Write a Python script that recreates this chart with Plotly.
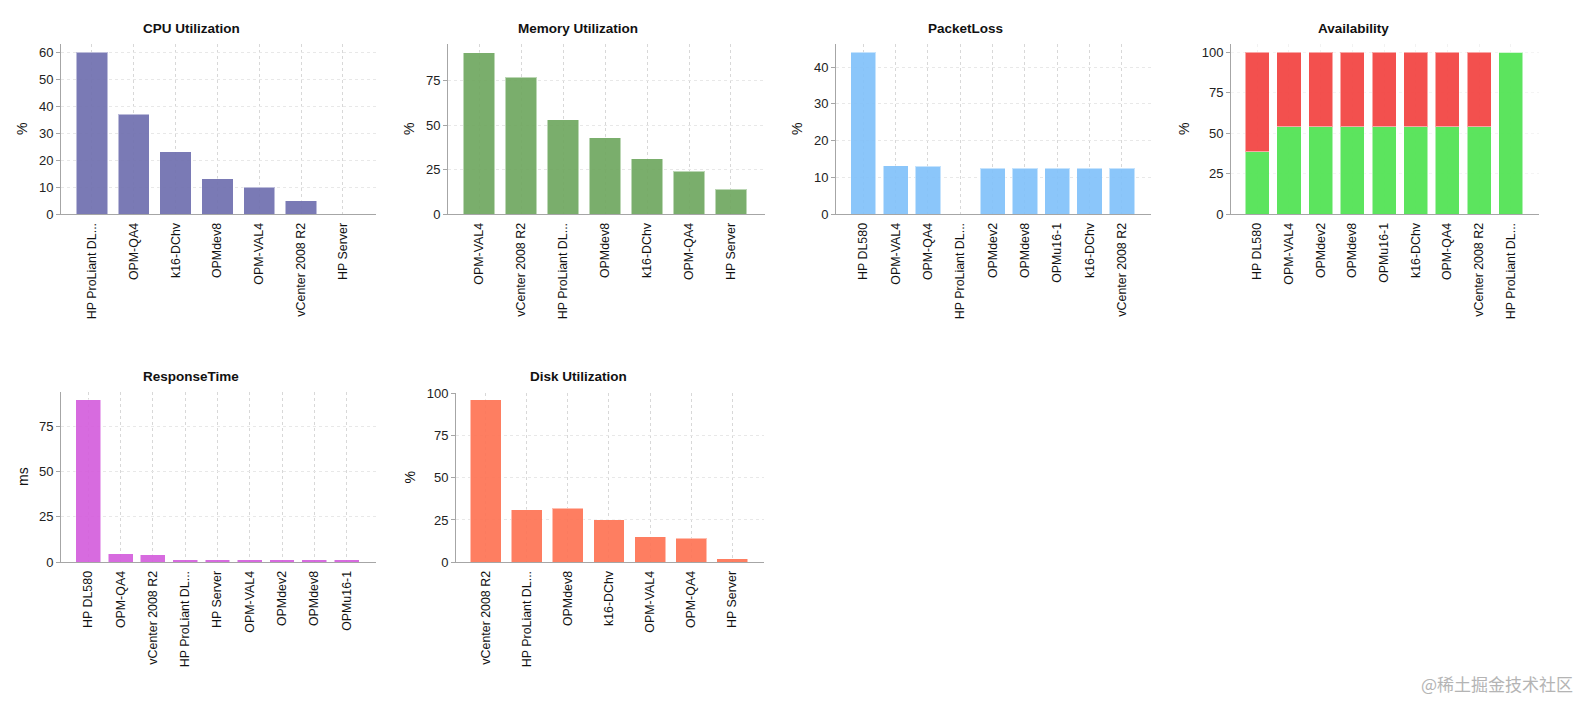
import plotly.graph_objects as go

W = 1581
H = 705

cpu_names = ["HP ProLiant DL...", "OPM-QA4", "k16-DChv", "OPMdev8", "OPM-VAL4", "vCenter 2008 R2", "HP Server"]
cpu_values = [60, 37, 23, 13, 10, 5, 0]

mem_names = ["OPM-VAL4", "vCenter 2008 R2", "HP ProLiant DL...", "OPMdev8", "k16-DChv", "OPM-QA4", "HP Server"]
mem_values = [91, 77, 53, 43, 31, 24, 14]

loss_names = ["HP DL580", "OPM-VAL4", "OPM-QA4", "HP ProLiant DL...", "OPMdev2", "OPMdev8", "OPMu16-1", "k16-DChv", "vCenter 2008 R2"]
loss_values = [44, 13.2, 13, 0, 12.5, 12.5, 12.5, 12.5, 12.5]

avail_names = ["HP DL580", "OPM-VAL4", "OPMdev2", "OPMdev8", "OPMu16-1", "k16-DChv", "OPM-QA4", "vCenter 2008 R2", "HP ProLiant DL..."]
avail_up = [38.5, 54, 54, 54, 54, 54, 54, 54, 100]
avail_down = [61.5, 46, 46, 46, 46, 46, 46, 46, 0]

resp_names = ["HP DL580", "OPM-QA4", "vCenter 2008 R2", "HP ProLiant DL...", "HP Server", "OPM-VAL4", "OPMdev2", "OPMdev8", "OPMu16-1"]
resp_values = [89.5, 4.5, 4, 1.2, 1.2, 1.2, 1.2, 1.2, 1.2]

disk_names = ["vCenter 2008 R2", "HP ProLiant DL...", "OPMdev8", "k16-DChv", "OPM-VAL4", "OPM-QA4", "HP Server"]
disk_values = [96.5, 31, 32, 25, 15, 14, 2]

# title, unit, names, stacked series, y ticks, y top, left/right range pad, bar width
panels = [
    ("CPU Utilization", "%", cpu_names, [(cpu_values, "#7171b0")], [0, 10, 20, 30, 40, 50, 60], 63, 0.74, 0.79, 0.75),
    ("Memory Utilization", "%", mem_names, [(mem_values, "#71a861")], [0, 25, 50, 75], 95.8, 0.74, 0.81, 0.75),
    ("PacketLoss", "%", loss_names, [(loss_values, "#83c2fa")], [0, 10, 20, 30, 40], 46.3, 0.845, 0.9, 0.78),
    ("Availability", "%", avail_names, [(avail_up, "#50e352"), (avail_down, "#f34341")], [0, 25, 50, 75, 100], 105, 0.83, 0.89, 0.76),
    ("ResponseTime", "ms", resp_names, [(resp_values, "#d560dd")], [0, 25, 50, 75], 93.8, 0.845, 0.91, 0.77),
    ("Disk Utilization", "%", disk_names, [(disk_values, "#fe7556")], [0, 25, 50, 75, 100], 100.5, 0.72, 0.77, 0.75),
]

# plot box in pixels: left, right, top, bottom, then title x, title y, unit x
boxes = [
    (61, 376, 44, 214, 191, 28, 22),
    (448, 765, 44, 214, 578, 28, 409),
    (836, 1151, 44, 214, 966, 28, 797),
    (1231, 1539, 44, 214, 1353, 28, 1184),
    (61, 376, 392, 562, 191, 376, 23),
    (456, 764, 393, 562, 578, 376, 409),
]

fig = go.Figure()
notes = []

for i, (panel, box) in enumerate(zip(panels, boxes)):
    title, unit, names, series, ticks, top, pad_l, pad_r, bar_w = panel
    x0, x1, y0, y1, title_x, title_y, unit_x = box
    n = "" if i == 0 else str(i + 1)

    for values, color in series:
        fig.add_trace(go.Bar(
            x=names, y=values, xaxis="x" + n, yaxis="y" + n,
            width=bar_w, opacity=0.93,
            marker=dict(color=color, line=dict(color="rgba(255,255,255,0.5)", width=1)),
            showlegend=False,
        ))

    # availability has a much fainter grid than the others
    grid = "#f2f2f2" if title == "Availability" else "#d8d8d8"
    fig.layout["xaxis" + n] = dict(
        domain=[x0 / W, x1 / W], anchor="y" + n, type="category",
        categoryorder="array", categoryarray=names,
        range=[-pad_l, len(names) - 1 + pad_r],
        showline=True, linecolor="#a6a6a6", linewidth=1,
        showgrid=True, gridcolor=grid, griddash="3px,3px", gridwidth=1,
        ticks="", tickangle=-90, ticklabelstandoff=3,
        tickfont=dict(family="Liberation Sans", size=12.4, color="#111111"),
    )
    fig.layout["yaxis" + n] = dict(
        domain=[1 - y1 / H, 1 - y0 / H], anchor="x" + n,
        range=[0, top], tickmode="array", tickvals=ticks,
        showline=True, linecolor="#a6a6a6", linewidth=1,
        showgrid=True, gridcolor="#e8e8e8" if title != "Availability" else "#f4f4f4",
        griddash="3px,3px", zeroline=False,
        ticks="outside", ticklen=4, tickcolor="#a6a6a6",
        tickfont=dict(family="Liberation Sans", size=13, color="#222222"),
    )

    notes.append(dict(text="<b>" + title + "</b>", x=title_x / W, y=1 - title_y / H,
                      xref="paper", yref="paper", showarrow=False, xanchor="center", yanchor="middle",
                      font=dict(family="Liberation Sans", size=13.5, color="#111111")))
    notes.append(dict(text=unit, x=unit_x / W, y=1 - (y0 + y1) / 2 / H,
                      xref="paper", yref="paper", showarrow=False, textangle=-90,
                      xanchor="center", yanchor="middle",
                      font=dict(family="Liberation Sans", size=14, color="#111111")))

notes.append(dict(text="@稀土掘金技术社区", x=1575 / W, y=1 - 683 / H, xref="paper", yref="paper",
                  showarrow=False, xanchor="right", yanchor="middle",
                  font=dict(family="Noto Sans CJK SC", size=17, color="#b4b4b4")))

fig.update_layout(
    width=W, height=H, margin=dict(l=0, r=0, t=0, b=0, autoexpand=False),
    paper_bgcolor="white", plot_bgcolor="white",
    barmode="stack", annotations=notes,
)

fig.write_html("out.html", config={"displayModeBar": False},
               post_script="document.body.style.margin='0';")
